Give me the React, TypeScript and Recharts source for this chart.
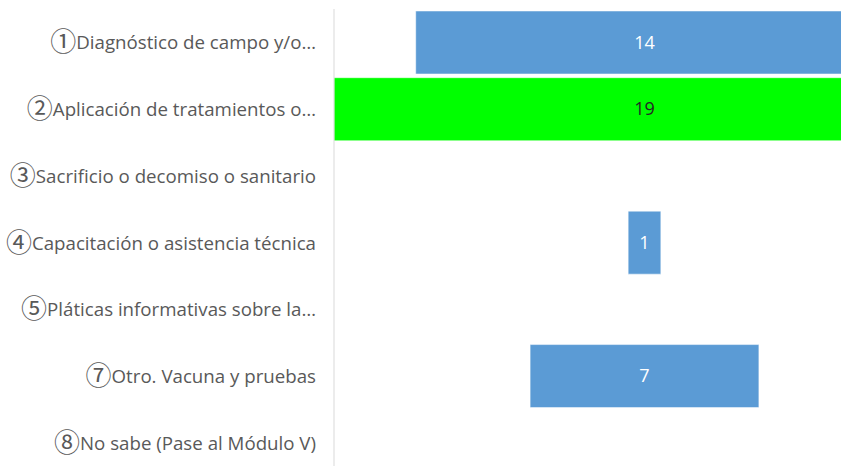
import { BarChart, Bar, XAxis, YAxis, Cell, LabelList } from 'recharts';

const categories = [
  '①Diagnóstico de campo y/o…',
  '②Aplicación de tratamientos o…',
  '③Sacrificio o decomiso o sanitario',
  '④Capacitación o asistencia técnica',
  '⑤Pláticas informativas sobre la…',
  '⑦Otro. Vacuna y pruebas',
  '⑧No sabe (Pase al Módulo V)',
];
const counts = [14, 19, 0, 1, 0, 7, 0];
const barColors = ['#5B9BD5', '#00FF00', '#5B9BD5', '#5B9BD5', '#5B9BD5', '#5B9BD5', '#5B9BD5'];
const labelColors = ['#FFFFFF', '#262626', '#FFFFFF', '#FFFFFF', '#FFFFFF', '#FFFFFF', '#FFFFFF'];

const maxCount = Math.max(...counts);
const data = categories.map((label, i) => ({
  label,
  pad: (maxCount - counts[i]) / 2,
  count: counts[i],
}));

const font = '"Open Sans", sans-serif';

function CategoryTick({ x, y, payload }: any) {
  const mark = payload.value.slice(0, 1);
  const rest = payload.value.slice(1);
  return (
    <text x={x} y={y + 7} textAnchor="end" fill="#595959" fontSize={18.7} fontFamily={font}>
      <tspan fontFamily='"Noto Sans CJK JP", "DejaVu Sans"' fontSize={26} dy={2}>{mark}</tspan>
      <tspan dy={-2}>{rest}</tspan>
    </text>
  );
}

export default function App() {
  return (
    <div style={{ position: 'fixed', left: 0, top: 0, width: 841, height: 466, overflow: 'hidden', background: '#fff' }}>
      <BarChart
        width={960}
        height={490}
        data={data}
        layout="vertical"
        margin={{ top: 9, right: 5, bottom: 14, left: 0 }}
        barCategoryGap={2}
      >
        <XAxis type="number" domain={[0, maxCount]} hide />
        <YAxis
          type="category"
          dataKey="label"
          width={334}
          axisLine={{ stroke: '#D9D9D9' }}
          tickLine={false}
          tickSize={0}
          tickMargin={18}
          tick={<CategoryTick />}
          interval={0}
        />
        <Bar dataKey="pad" stackId="a" fill="transparent" isAnimationActive={false} />
        <Bar dataKey="count" stackId="a" isAnimationActive={false} stroke="#FFFFFF" strokeOpacity={0.5}>
          {data.map((_, i) => (
            <Cell key={i} fill={barColors[i]} />
          ))}
          <LabelList
            dataKey="count"
            content={(props: any) => {
              const { x, y, width, height, value, index } = props;
              if (!value) return null;
              return (
                <text
                  x={x + width / 2}
                  y={y + height / 2}
                  dy={6}
                  textAnchor="middle"
                  fill={labelColors[index]}
                  fontSize={18}
                  fontFamily={font}
                >
                  {value}
                </text>
              );
            }}
          />
        </Bar>
      </BarChart>
    </div>
  );
}
